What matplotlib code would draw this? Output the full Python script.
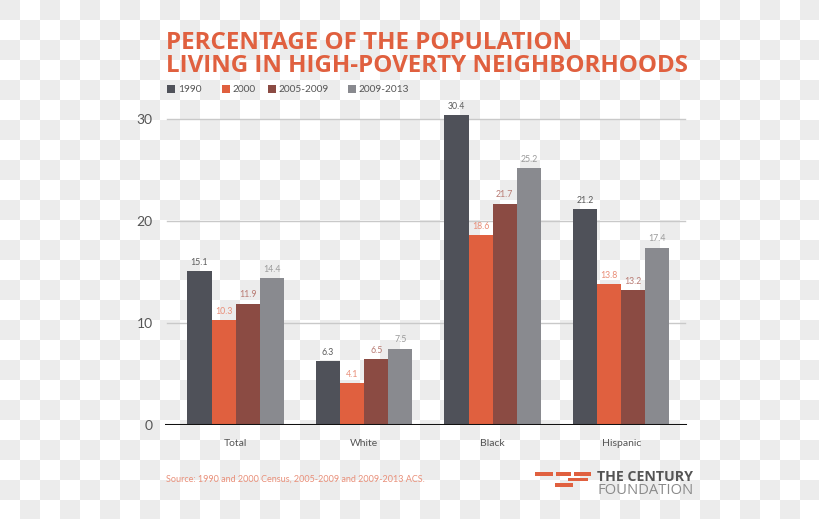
import numpy as np
import matplotlib
matplotlib.use("Agg")
import matplotlib.pyplot as plt
from matplotlib.patches import Rectangle

categories = ["Total", "White", "Black", "Hispanic"]
series_names = ["1990", "2000", "2005-2009", "2009-2013"]
v1990 = [15.1, 6.3, 30.4, 21.2]
v2000 = [10.3, 4.1, 18.6, 13.8]
v2005 = [11.9, 6.5, 21.7, 13.2]
v2009 = [14.4, 7.5, 25.2, 17.4]
yticks = [0, 10, 20, 30]

bar_colors = ["#4f5159", "#e0603f", "#8b4b43", "#898a8f"]
label_colors = ["#5a5a5a", "#e98d77", "#b87a72", "#9a9a9a"]

W, H = 820, 519
fig = plt.figure(figsize=(W / 100, H / 100), dpi=100)

# checkerboard background
bg = fig.add_axes([0, 0, 1, 1], zorder=-10)
nx, ny = W // 20 + 1, H // 20 + 1
ii, jj = np.meshgrid(np.arange(nx), np.arange(ny))
board = np.where((ii + jj) % 2 == 0, 0.922, 1.0)
bg.imshow(board, cmap="gray", vmin=0, vmax=1, extent=[0, nx * 20, ny * 20, 0],
          interpolation="nearest", aspect="auto")
bg.set_xlim(0, W)
bg.set_ylim(H, 0)
bg.axis("off")

def fx(px):
    return px / W

def fy(py):
    return 1 - py / H

ymax = 32.0
top_px = 425 - ymax * 10.2
ax = fig.add_axes([fx(165), fy(425), fx(688) - fx(165), (425 - top_px) / H])
ax.patch.set_alpha(0)

data = [v1990, v2000, v2005, v2009]
x = np.arange(len(categories))
bw = 0.188
for k, (vals, name) in enumerate(zip(data, series_names)):
    xs = x + (k - 1.5) * bw
    ax.bar(xs, vals, width=bw, color=bar_colors[k], label=name, zorder=3)
    for xi, v in zip(xs, vals):
        ax.annotate(f"{v}", (xi, v), xytext=(0, 3), textcoords="offset points",
                    ha="center", va="bottom", fontsize=6.3, color=label_colors[k],
                    family="Lato", zorder=4)

ax.set_xlim(-0.55, 3.52)
ax.set_ylim(0, ymax)
for t in yticks[1:]:
    ax.axhline(t, color="#c9c9c9", lw=1.0, zorder=1, xmin=0.004, xmax=0.995)
ax.axhline(0, color="#111111", lw=2.2, zorder=5, xmax=0.995)
for s in ax.spines.values():
    s.set_visible(False)
ax.set_yticks(yticks)
ax.set_yticklabels([str(t) for t in yticks], fontsize=10, color="#555555", family="Lato")
ax.tick_params(axis="y", length=0, pad=9)
ax.set_xticks(x)
ax.set_xticklabels(categories, fontsize=7.5, color="#555555", family="Lato")
ax.tick_params(axis="x", length=0, pad=10)

# title
title_color = "#e0603f"
fig.text(fx(166), fy(49), "PERCENTAGE OF THE POPULATION", fontsize=17.4,
         fontweight="bold", color=title_color, family="Open Sans", va="baseline", ha="left")
fig.text(fx(166), fy(72), "LIVING IN HIGH-POVERTY NEIGHBORHOODS", fontsize=17.4,
         fontweight="bold", color=title_color, family="Open Sans", va="baseline", ha="left")

# legend (manual placement)
leg_px = [167, 222, 268, 348]
for k, name in enumerate(series_names):
    fig.patches.append(Rectangle((fx(leg_px[k]), fy(93)), 8 / W, 8 / H,
                                 transform=fig.transFigure, color=bar_colors[k], lw=0))
    fig.text(fx(leg_px[k] + 11), fy(89), name, fontsize=7.3, color="#555555",
             family="Lato", va="center", ha="left")

# source
fig.text(fx(166), fy(479), "Source: 1990 and 2000 Census, 2005-2009 and 2009-2013 ACS.",
         fontsize=6.5, color="#e9907a", family="Lato", va="center", ha="left")

# logo
logo_c = "#e0603f"
for (x0, y0, x1, y1) in [(535, 472, 553, 476), (556, 472, 571, 476), (574, 472, 591, 476),
                         (568, 478, 588, 481), (555, 483, 573, 487)]:
    fig.patches.append(Rectangle((fx(x0), fy(y1)), fx(x1) - fx(x0), (y1 - y0) / H,
                                 transform=fig.transFigure, color=logo_c, lw=0))
fig.text(fx(597), fy(477), "THE CENTURY", fontsize=10.2, fontweight="bold", color="#555555",
         family="Open Sans", va="center", ha="left")
fig.text(fx(598), fy(491), "FOUNDATION", fontsize=10.6, color="#8a8a8a",
         family="Open Sans", va="center", ha="left")

fig.savefig("out.png", dpi=100)
